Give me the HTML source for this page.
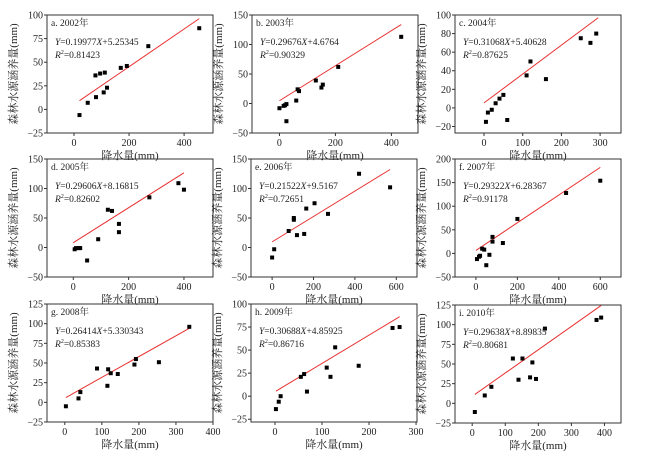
<!DOCTYPE html>
<html><head><meta charset="utf-8"><style>
body{margin:0;background:#fff;}
svg text{font-family:"Liberation Serif","Noto Serif CJK SC",serif;fill:#222;}
</style></head><body>
<svg id="s" width="650" height="451" xmlns="http://www.w3.org/2000/svg"></svg>
<script>
const P=[
{L:47,T:15,xr:[-98,505],yr:[-25,100],xt:[0,200,400],yt:[-25,0,25,50,75,100],t:"a. 2002年",eq:"0.19977",b:"5.25345",r:"0.81423",ln:[20,455],m:0.19977,c:5.25345,
pts:[[20,-6],[50,7],[80,13],[78,36],[95,38],[112,39],[108,18],[120,23],[170,44],[192,46],[270,67],[455,86]]},
{L:252,T:15,xr:[-98,495],yr:[-50,150],xt:[0,200,400],yt:[-50,0,50,100,150],t:"b. 2003年",eq:"0.29676",b:"4.6764",r:"0.90329",ln:[0,435],m:0.29676,c:4.6764,
pts:[[0,-8],[15,-4],[20,-3],[25,-1],[25,-30],[60,5],[65,24],[70,21],[130,39],[150,27],[155,32],[210,62],[435,113]]},
{L:455,T:15,xr:[-75,354],yr:[-27,100],xt:[0,100,200,300],yt:[-20,0,20,40,60,80,100],t:"c. 2004年",eq:"0.31068",b:"5.40628",r:"0.87625",ln:[0,295],m:0.31068,c:5.40628,
pts:[[5,-15],[10,-5],[20,-2],[30,5],[40,10],[50,14],[60,-13],[110,35],[120,50],[160,31],[250,75],[275,70],[290,80]]},
{L:47,T:159,xr:[-95,505],yr:[-50,150],xt:[0,200,400],yt:[-50,0,50,100,150],t:"d. 2005年",eq:"0.29606",b:"8.16815",r:"0.82602",ln:[0,400],m:0.29606,c:8.16815,
pts:[[5,-3],[10,-1],[20,-1],[25,-1],[50,-22],[90,14],[125,64],[140,62],[165,40],[165,26],[275,85],[380,109],[400,98]]},
{L:251,T:159,xr:[-102,700],yr:[-50,150],xt:[0,200,400,600],yt:[-50,0,50,100,150],t:"e. 2006年",eq:"0.21522",b:"9.5167",r:"0.72651",ln:[0,570],m:0.21522,c:9.5167,
pts:[[0,-17],[10,-3],[80,28],[105,50],[105,47],[120,21],[155,23],[165,66],[205,75],[270,57],[420,125],[570,102]]},
{L:455,T:159,xr:[-101,700],yr:[-50,200],xt:[0,200,400,600],yt:[-50,0,50,100,150,200],t:"f. 2007年",eq:"0.29322",b:"6.28367",r:"0.91178",ln:[0,600],m:0.29322,c:6.28367,
pts:[[5,-12],[15,-7],[20,-5],[30,10],[40,8],[50,-25],[65,-3],[80,25],[80,35],[130,22],[200,73],[435,128],[600,154]]},
{L:47,T:304,xr:[-48,400],yr:[-25,125],xt:[0,100,200,300,400],yt:[-25,0,25,50,75,100,125],t:"g. 2008年",eq:"0.26414",b:"5.330343",r:"0.85383",ln:[3,336],m:0.26414,c:5.330343,
pts:[[3,-5],[37,5],[42,13],[87,43],[115,21],[117,42],[124,37],[143,36],[188,48],[192,55],[254,51],[336,96]]},
{L:251,T:304,xr:[-51,302],yr:[-28,100],xt:[0,100,200,300],yt:[-25,0,25,50,75,100],t:"h. 2009年",eq:"0.30688",b:"4.85925",r:"0.86716",ln:[2,265],m:0.30688,c:4.85925,
pts:[[2,-14],[8,-6],[12,0],[55,21],[62,24],[68,5],[110,31],[118,21],[128,53],[178,33],[250,74],[265,75]]},
{L:455,T:305,xr:[-52,450],yr:[-25,125],xt:[0,100,200,300,400],yt:[-25,0,25,50,75,100,125],t:"i. 2010年",eq:"0.29638",b:"8.89835",r:"0.80681",ln:[8,390],m:0.29638,c:8.89835,
pts:[[8,-11],[38,10],[58,21],[123,57],[140,30],[152,57],[175,33],[182,52],[193,31],[220,95],[376,106],[390,109]]}
];
const W=166,H=118;let h="";
for(const p of P){
 const X=v=>p.L+(v-p.xr[0])/(p.xr[1]-p.xr[0])*W, Y=v=>p.T+H-(v-p.yr[0])/(p.yr[1]-p.yr[0])*H;
 h+=`<rect x="${p.L}" y="${p.T}" width="${W}" height="${H}" fill="none" stroke="#333" stroke-width="1"/>`;
 for(const t of p.xt){const x=X(t);h+=`<line x1="${x}" y1="${p.T+H}" x2="${x}" y2="${p.T+H+3}" stroke="#333"/><text x="${x}" y="${p.T+H+13}" font-size="10" text-anchor="middle">${t}</text>`;}
 for(const t of p.yt){const y=Y(t);h+=`<line x1="${p.L-3}" y1="${y}" x2="${p.L}" y2="${y}" stroke="#333"/><text x="${p.L-4}" y="${y+3.5}" font-size="10" text-anchor="end">${t<0?"\u2212"+(-t):t}</text>`;}
 h+=`<text x="${p.L+W/2}" y="${p.T+H+26}" font-size="11" text-anchor="middle">降水量(mm)</text>`;
 const cx=p.L-30,cy=p.T+H/2;
 h+=`<text transform="translate(${cx},${cy}) rotate(-90)" font-size="11" text-anchor="middle">森林水源涵养量(mm)</text>`;
 h+=`<line x1="${X(p.ln[0])}" y1="${Y(p.m*p.ln[0]+p.c)}" x2="${X(p.ln[1])}" y2="${Y(p.m*p.ln[1]+p.c)}" stroke="#e83030" stroke-width="1"/>`;
 for(const q of p.pts)h+=`<rect x="${X(q[0])-2}" y="${Y(q[1])-2}" width="4" height="4" fill="#000"/>`;
 h+=`<text x="${p.L+4}" y="${p.T+11}" font-size="9.5">${p.t}</text>`;
 h+=`<text x="${p.L+8}" y="${p.T+30}" font-size="9.5"><tspan font-style="italic">Y</tspan>=${p.eq}<tspan font-style="italic">X</tspan>+${p.b}</text>`;
 h+=`<text x="${p.L+8}" y="${p.T+43}" font-size="9.5"><tspan font-style="italic">R</tspan><tspan font-size="6" dy="-4">2</tspan><tspan dy="4">=${p.r}</tspan></text>`;
}
document.getElementById("s").innerHTML=h;
</script>
</body></html>
